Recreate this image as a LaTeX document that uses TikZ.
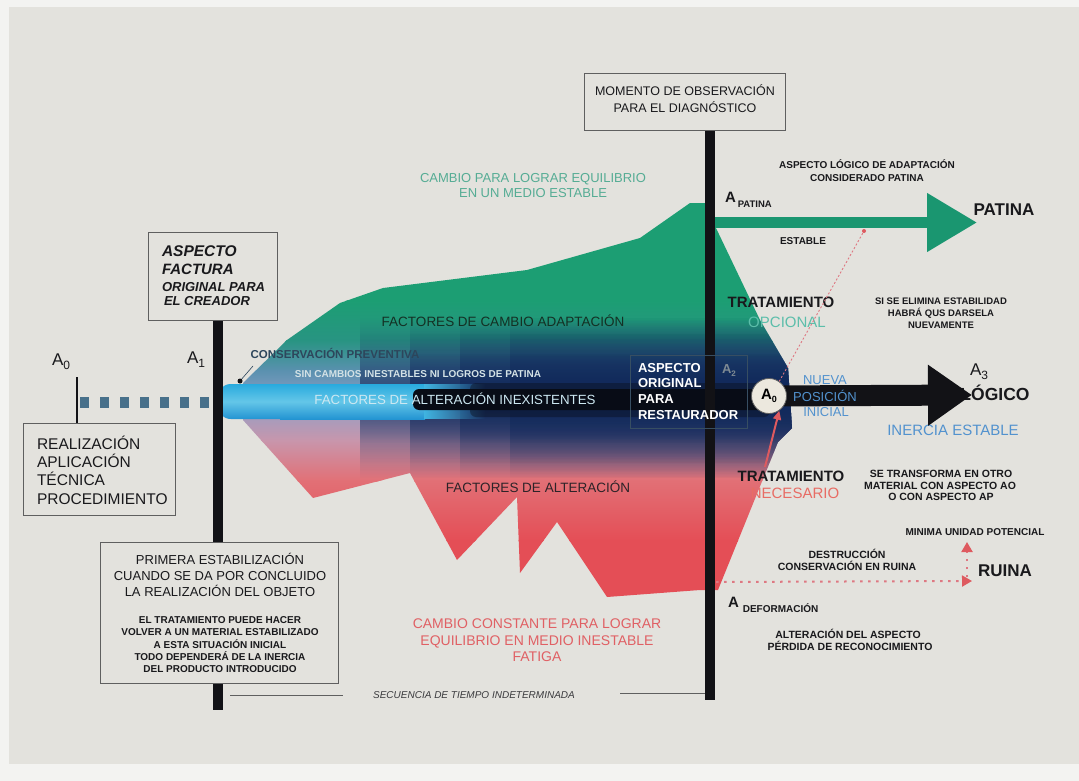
\documentclass[tikz,border=0pt]{standalone}
\usepackage{fontspec}
\setmainfont{Liberation Sans}
\usetikzlibrary{arrows.meta,fadings}
\tikzfading[name=vband, top color=transparent!100, bottom color=transparent!100, middle color=transparent!0]
\tikzfading[name=fadeL, left color=transparent!0, right color=transparent!100]
\newcommand\fsz[2]{\fontsize{#1}{#2}\selectfont}
\definecolor{paper}{RGB}{227,226,221}
\definecolor{edgec}{RGB}{243,243,241}
\definecolor{boxc}{RGB}{95,95,95}
\definecolor{barc}{RGB}{18,18,22}
\definecolor{gA}{RGB}{28,158,115}
\definecolor{gB}{RGB}{40,148,130}
\definecolor{tlB}{RGB}{90,145,175}
\definecolor{mdB}{RGB}{140,160,200}
\definecolor{pkL}{RGB}{200,150,172}
\definecolor{slM}{RGB}{226,112,118}
\definecolor{rdA}{RGB}{228,78,86}
\definecolor{navy}{RGB}{18,42,92}
\definecolor{coreb}{RGB}{8,12,22}
\definecolor{cyT}{RGB}{40,170,222}
\definecolor{cyM}{RGB}{100,198,232}
\definecolor{cyB}{RGB}{35,148,210}
\definecolor{dshc}{RGB}{72,112,138}
\definecolor{garrow}{RGB}{26,150,112}
\definecolor{tealt}{RGB}{85,172,148}
\definecolor{redt}{RGB}{224,96,100}
\definecolor{bluet}{RGB}{82,146,206}
\definecolor{inkc}{RGB}{25,25,28}
\definecolor{redl}{RGB}{222,90,95}
\definecolor{redd}{RGB}{222,120,130}
\definecolor{circf}{RGB}{236,232,222}
\definecolor{dkgreen}{RGB}{20,48,36}
\definecolor{slate}{RGB}{45,70,92}
\definecolor{palet}{RGB}{212,226,230}
\definecolor{cyt}{RGB}{205,232,242}
\definecolor{opcc}{RGB}{92,190,170}
\definecolor{necc}{RGB}{232,108,100}
\definecolor{restA}{RGB}{40,60,75}
\definecolor{restbc}{RGB}{55,78,98}
\definecolor{fact}{RGB}{45,35,40}
\begin{document}
\begin{tikzpicture}[x=1pt,y=-1pt,
  t/.style={inner sep=0pt,outer sep=0pt,text=inkc},
  boxn/.style={draw=boxc,line width=0.8pt,fill=paper,inner sep=0pt,outer sep=0pt,anchor=north west},
  barline/.style={draw=barc,line width=10pt},
  rdot/.style={draw=redd,line width=2pt,dash pattern=on 2.5pt off 5.5pt},
  bigA/.style={t,anchor=base west,font=\fsz{17}{17}},
  darkband/.style={fill=navy,path fading=vband},
  ]
\useasboundingbox (0,0) rectangle (1079,781);
\fill[edgec] (0,0) rectangle (1079,781);
\fill[paper] (9,7) rectangle (1079,764);

% ---- central shape ----
\begin{scope}
\clip (243,383) -- (287,340) -- (340,303) -- (383,288) -- (527,270) -- (640,238) -- (690,203) -- (710,203) -- (716,228) -- (760,320) -- (788,368) -- (792,428) -- (778,442) -- (718,590) -- (700,590) -- (607,597) -- (557,522) -- (520,573) -- (517,497) -- (457,560) -- (410,473) -- (313,498) -- (243,420) -- cycle;
\fill[gA] (230,190) rectangle (800,301);
\shade[top color=gA,bottom color=gB] (230,300) rectangle (800,341);
\shade[top color=gB,bottom color=tlB] (230,340) rectangle (800,371);
\shade[top color=tlB,bottom color=mdB] (230,370) rectangle (800,401);
\shade[top color=mdB,bottom color=pkL] (230,400) rectangle (800,441);
\shade[top color=pkL,bottom color=slM] (230,440) rectangle (800,481);
\shade[top color=slM,bottom color=rdA] (230,480) rectangle (800,541);
\fill[rdA] (230,540) rectangle (800,610);
\foreach \xs in {360,410,460,510}{
  \path[darkband,opacity=0.52] (\xs,318) rectangle (800,478);
  \path[darkband,opacity=0.2] (\xs,333) rectangle (800,463);
  \path[darkband,opacity=0.33] (\xs,353) rectangle (800,443);
}
\end{scope}

% cyan band and black core
\shade[top color=cyT,bottom color=cyB,middle color=cyM,rounded corners=14pt] (217,384) rectangle (300,419);
\shade[top color=cyT,bottom color=cyB,middle color=cyM] (280,384) rectangle (425,419);
\fill[cyT!60!cyM,path fading=fadeL] (424,384) rectangle (485,419);
\fill[coreb,opacity=0.4,rounded corners=6pt] (470,383) rectangle (770,417);
\fill[coreb,rounded corners=6pt] (413,389) rectangle (770,410);

% left dashed line and A0 tick
\coordinate (d1) at (80,402.5);
\coordinate (d2) at (213,402.5);
\draw[dshc,line width=11pt,dash pattern=on 9pt off 11pt] (d1) -- (d2);
\coordinate (a0t) at (77,377);
\coordinate (a0b) at (77,423);
\draw[barc,line width=2pt] (a0t) -- (a0b);

% bars
\coordinate (b1t) at (218,318);
\coordinate (b1b) at (218,710);
\coordinate (b2t) at (710,128);
\coordinate (b2b) at (710,700);
\draw[barline] (b1t) -- (b1b);
\draw[barline] (b2t) -- (b2b);

% boxes
\node[boxn,minimum width=129pt,minimum height=88pt] (creatorbox) at (148,232) {};
\node[boxn,minimum width=152pt,minimum height=92pt] (realbox) at (23,423) {};
\node[boxn,minimum width=238pt,minimum height=141pt] (primbox) at (100,542) {};
\node[boxn,minimum width=201pt,minimum height=57pt] (momentbox) at (584,73) {};
\node[draw=restbc,line width=0.8pt,inner sep=0pt,anchor=north west,minimum width=117pt,minimum height=73pt] (restbox) at (630,355) {};

% box texts
\node[t,anchor=base,font=\fsz{12.5}{12.5}] (mo1) at (685,95.5) {MOMENTO DE OBSERVACIÓN};
\node[t,anchor=base,font=\fsz{12.5}{12.5}] (mo2) at (685,112.5) {PARA EL DIAGNÓSTICO};
\node[t,anchor=base west,font=\fsz{15.5}{15.5}\bfseries\itshape] (cr1) at (162,256.5) {ASPECTO};
\node[t,anchor=base west,font=\fsz{15}{15}\bfseries\itshape] (cr2) at (162,274.4) {FACTURA};
\node[t,anchor=base west,font=\fsz{13}{13}\bfseries\itshape] (cr3) at (162,291.7) {ORIGINAL PARA};
\node[t,anchor=base west,font=\fsz{13}{13}\bfseries\itshape] (cr4) at (164,305.7) {EL CREADOR};
\node[t,anchor=base west,font=\fsz{15.5}{15.5}] (re1) at (37,449) {REALIZACIÓN};
\node[t,anchor=base west,font=\fsz{15.5}{15.5}] (re2) at (37,467) {APLICACIÓN};
\node[t,anchor=base west,font=\fsz{15.5}{15.5}] (re3) at (37,485.5) {TÉCNICA};
\node[t,anchor=base west,font=\fsz{15.5}{15.5}] (re4) at (37,504) {PROCEDIMIENTO};
\node[t,anchor=base,font=\fsz{13}{13}] (pr1) at (220,564.7) {PRIMERA ESTABILIZACIÓN};
\node[t,anchor=base,font=\fsz{13}{13}] (pr2) at (220,580.7) {CUANDO SE DA POR CONCLUIDO};
\node[t,anchor=base,font=\fsz{13}{13}] (pr3) at (220,596.7) {LA REALIZACIÓN DEL OBJETO};
\node[t,anchor=base,font=\fsz{10}{10}\bfseries] (pt1) at (220,623.6) {EL TRATAMIENTO PUEDE HACER};
\node[t,anchor=base,font=\fsz{10}{10}\bfseries] (pt2) at (220,635.6) {VOLVER A UN MATERIAL ESTABILIZADO};
\node[t,anchor=base,font=\fsz{10}{10}\bfseries] (pt3) at (220,648.6) {A ESTA SITUACIÓN INICIAL};
\node[t,anchor=base,font=\fsz{10}{10}\bfseries] (pt4) at (220,660.6) {TODO DEPENDERÁ DE LA INERCIA};
\node[t,anchor=base,font=\fsz{10}{10}\bfseries] (pt5) at (220,672.6) {DEL PRODUCTO INTRODUCIDO};

% A labels left
\node[bigA] (A0l) at (52,365) {A\raisebox{-4pt}{\fsz{12}{12}0}};
\node[bigA] (A1l) at (187,363) {A\raisebox{-4pt}{\fsz{12}{12}1}};

% texts on the shape
\node[t,anchor=base,font=\fsz{13}{13},text=tealt] (c1) at (533,182.7) {CAMBIO PARA LOGRAR EQUILIBRIO};
\node[t,anchor=base,font=\fsz{13}{13},text=tealt] (c2) at (533,197.7) {EN UN MEDIO ESTABLE};
\node[t,anchor=base,font=\fsz{13.5}{13.5},text=dkgreen] (fca) at (503,326.8) {FACTORES DE CAMBIO ADAPTACIÓN};
\node[t,anchor=base,font=\fsz{11.5}{11.5}\bfseries,text=slate] (cp) at (335,358.1) {CONSERVACIÓN PREVENTIVA};
\node[t,anchor=base,font=\fsz{10}{10}\bfseries,text=palet] (sin) at (418,377.6) {SIN CAMBIOS INESTABLES NI LOGROS DE PATINA};
\node[t,anchor=base,font=\fsz{13.3}{13.3},text=cyt] (fai) at (455,404.8) {FACTORES DE ALTERACIÓN INEXISTENTES};
\node[t,anchor=base,font=\fsz{13.5}{13.5},text=fact] (fa) at (538,492.8) {FACTORES DE ALTERACIÓN};
\node[t,anchor=base,font=\fsz{14}{14},text=redt] (cc1) at (537,628) {CAMBIO CONSTANTE PARA LOGRAR};
\node[t,anchor=base,font=\fsz{14}{14},text=redt] (cc2) at (537,645) {EQUILIBRIO EN MEDIO INESTABLE};
\node[t,anchor=base,font=\fsz{14}{14},text=redt] (cc3) at (537,661) {FATIGA};
\node[t,anchor=base,font=\fsz{10}{10}\itshape,text=inkc!85] (seq) at (474,698.6) {SECUENCIA DE TIEMPO INDETERMINADA};
\coordinate (s1) at (230,695); \coordinate (s2) at (343,695);
\coordinate (s3) at (620,693); \coordinate (s4) at (705,693);
\draw[boxc,line width=0.8pt] (s1) -- (s2);
\draw[boxc,line width=0.8pt] (s3) -- (s4);

% leader for conservacion preventiva
\coordinate (cpdot) at (240,381);
\coordinate (cpl) at (253,366);
\draw[slate,line width=0.6pt] (cpdot) -- (cpl);
\fill[barc] (cpdot) circle (2.5pt);

% restaurador box text
\node[t,anchor=base west,font=\fsz{13}{13}\bfseries,text=white] (rs1) at (638,372.7) {ASPECTO};
\node[t,anchor=base west,font=\fsz{13}{13}\bfseries,text=white] (rs2) at (638,387.7) {ORIGINAL};
\node[t,anchor=base west,font=\fsz{13}{13}\bfseries,text=white] (rs3) at (638,403.7) {PARA};
\node[t,anchor=base west,font=\fsz{13}{13}\bfseries,text=white] (rs4) at (638,419.7) {RESTAURADOR};
\node[t,anchor=base west,font=\fsz{13}{13}\bfseries,text=restA!60!white] (rsA) at (722,373) {A\raisebox{-3pt}{\fsz{8}{8}2}};

% right side texts
\node[t,anchor=base west,font=\fsz{15}{15}\bfseries] (Apat) at (725,202.5) {A\hspace{2pt}\raisebox{-5pt}{\fsz{9.5}{9.5}\bfseries PATINA}};
\node[t,anchor=base,font=\fsz{10}{10}\bfseries] (al1) at (867,168.6) {ASPECTO LÓGICO DE ADAPTACIÓN};
\node[t,anchor=base,font=\fsz{10}{10}\bfseries] (al2) at (867,181.6) {CONSIDERADO PATINA};
\node[t,anchor=base,font=\fsz{17}{17}\bfseries] (patina) at (1004,215.1) {PATINA};
\node[t,anchor=base,font=\fsz{10}{10}\bfseries] (estable) at (803,244.6) {ESTABLE};
\node[t,anchor=base,font=\fsz{15}{15}\bfseries] (tr1) at (781,307.4) {TRATAMIENTO};
\node[t,anchor=base,font=\fsz{15}{15},text=opcc] (opc) at (787,327.4) {OPCIONAL};
\node[t,anchor=base,font=\fsz{9.5}{9.5}\bfseries] (si1) at (941,304.4) {SI SE ELIMINA ESTABILIDAD};
\node[t,anchor=base,font=\fsz{9.5}{9.5}\bfseries] (si2) at (941,316.4) {HABRÁ QUS DARSELA};
\node[t,anchor=base,font=\fsz{9.5}{9.5}\bfseries] (si3) at (941,328.4) {NUEVAMENTE};
\node[t,anchor=base,font=\fsz{13}{13},text=bluet] (nu1) at (825,384.7) {NUEVA};
\node[t,anchor=base,font=\fsz{13}{13},text=bluet] (nu3) at (826,416.7) {INICIAL};
\node[t,anchor=base,font=\fsz{15}{15},text=bluet] (iner) at (953,435.4) {INERCIA ESTABLE};
\node[bigA] (A3) at (970,375) {A\raisebox{-4pt}{\fsz{12}{12}3}};
\node[t,anchor=base,font=\fsz{17.5}{17.5}\bfseries] (logico) at (995,400.3) {LÓGICO};
\node[t,anchor=base,font=\fsz{15}{15}\bfseries] (tr2) at (791,481.4) {TRATAMIENTO};
\node[t,anchor=base,font=\fsz{15}{15},text=necc] (nec) at (795,498.4) {NECESARIO};
\node[t,anchor=base,font=\fsz{10.5}{10.5}\bfseries] (se1) at (941,477.8) {SE TRANSFORMA EN OTRO};
\node[t,anchor=base,font=\fsz{10.5}{10.5}\bfseries] (se2) at (940,489.8) {MATERIAL CON ASPECTO AO};
\node[t,anchor=base,font=\fsz{10.5}{10.5}\bfseries] (se3) at (941,500.8) {O CON ASPECTO AP};
\node[t,anchor=base,font=\fsz{10}{10}\bfseries] (mini) at (975,535.6) {MINIMA UNIDAD POTENCIAL};
\node[t,anchor=base,font=\fsz{17}{17}\bfseries] (ruina) at (1005,576.1) {RUINA};
\node[t,anchor=base,font=\fsz{10.5}{10.5}\bfseries] (de1) at (847,558.8) {DESTRUCCIÓN};
\node[t,anchor=base,font=\fsz{10.5}{10.5}\bfseries] (de2) at (847,570.8) {CONSERVACIÓN EN RUINA};
\node[t,anchor=base west,font=\fsz{15}{15}\bfseries] (Adef) at (728,607) {A\hspace{4pt}\raisebox{-5pt}{\fsz{10}{10}\bfseries DEFORMACIÓN}};
\node[t,anchor=base,font=\fsz{10.5}{10.5}\bfseries] (alt1) at (848,638.8) {ALTERACIÓN DEL ASPECTO};
\node[t,anchor=base,font=\fsz{10.5}{10.5}\bfseries] (alt2) at (850,650.8) {PÉRDIDA DE RECONOCIMIENTO};

% arrows
\coordinate (gs) at (715,222.5);
\coordinate (gt) at (977,222.5);
\draw[garrow,line width=11pt,-{Triangle[length=50pt,width=56pt]}] (gs) -- (gt);
\coordinate (a0pos) at (769,396);
\coordinate (at3) at (972,395);
\draw[barc,line width=21pt,-{Triangle[length=44pt,width=58pt]}] (a0pos) -- (at3);
\node[t,anchor=base,font=\fsz{13}{13},text=bluet] (nu2) at (825,401.7) {POSICIÓN};
\node[circle,draw=boxc,line width=0.8pt,fill=circf,minimum size=35pt,inner sep=0pt,font=\fsz{15}{15}\bfseries] (a0c) at (a0pos) {A\raisebox{-3.5pt}{\fsz{9}{9}0}};
\coordinate (ra) at (765,467);
\draw[redl,line width=2pt,-{Triangle[length=9pt,width=8pt]}] (ra) -- (a0c.-55);
\coordinate (rd) at (864,231);
\draw[redd,line width=0.9pt,dash pattern=on 2pt off 2pt] (a0c.55) -- (rd);
\fill[redl] (rd) circle (2pt);
\coordinate (rh1) at (716,582);
\coordinate (rh2) at (972,581);
\draw[rdot,-{Triangle[length=10pt,width=11pt,color=redl]}] (rh1) -- (rh2);
\coordinate (rv1) at (967,577);
\coordinate (rv2) at (967,542);
\draw[rdot,-{Triangle[length=10pt,width=11pt,color=redl]}] (rv1) -- (rv2);
\end{tikzpicture}
\end{document}
